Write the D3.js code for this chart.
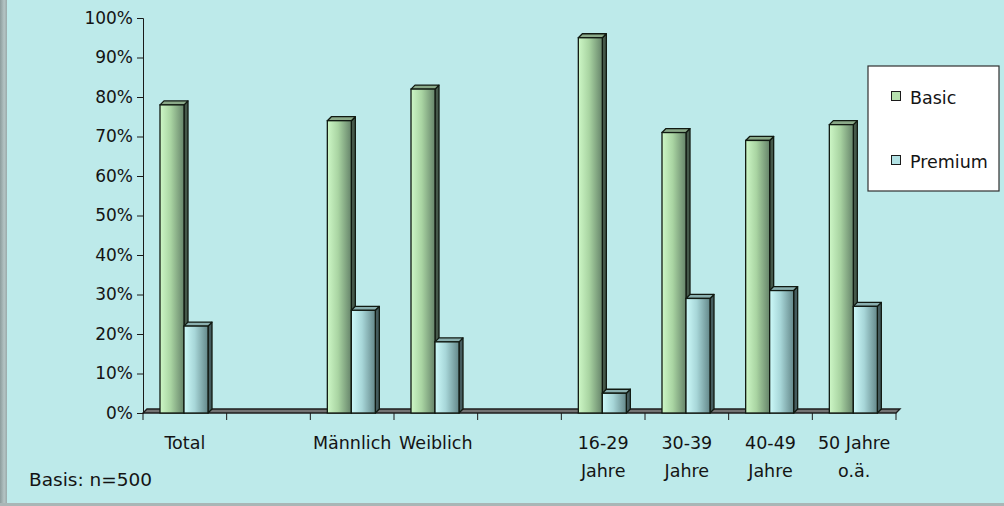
<!DOCTYPE html>
<html>
<head>
<meta charset="utf-8">
<script src="https://cdn.jsdelivr.net/npm/d3@7"></script>
<style>
  html, body { margin: 0; padding: 0; background: #bdeaea; }
  svg { display: block; }
  text { font-family: "DejaVu Sans", Verdana, sans-serif; fill: #141414; }
</style>
</head>
<body>
<svg id="chart" width="1004" height="506"></svg>
<script>
// Category labels (empty entries are spacer slots between groups)
const categories = ["Total", "", "Männlich", "Weiblich", "", "16-29\nJahre", "30-39\nJahre", "40-49\nJahre", "50 Jahre\no.ä."];
const seriesNames = ["Basic", "Premium"];
const basicValues = [78, null, 74, 82, null, 95, 71, 69, 73];
const premiumValues = [22, null, 26, 18, null, 5, 29, 31, 27];
const yTicks = [0, 10, 20, 30, 40, 50, 60, 70, 80, 90, 100];
const footnote = "Basis: n=500";

const W = 1004, H = 506;
const plot = { left: 143, right: 896, top: 18, bottom: 413 };
const depth = { dx: 4, dy: -4 };

const svg = d3.select("#chart");

// Frame: background with a grey left edge and bottom rule
svg.append("rect").attr("width", W).attr("height", H).attr("fill", "#bdeaea");
const defs = svg.append("defs");
const edge = defs.append("linearGradient").attr("id", "edgeGrad");
edge.append("stop").attr("offset", "0%").attr("stop-color", "#8c9c9c");
edge.append("stop").attr("offset", "60%").attr("stop-color", "#b4c4c4");
edge.append("stop").attr("offset", "100%").attr("stop-color", "#9aaaaa");
svg.append("rect").attr("x", 0).attr("y", 0).attr("width", 7).attr("height", H).attr("fill", "url(#edgeGrad)");
svg.append("rect").attr("x", 0).attr("y", H - 3).attr("width", W).attr("height", 3).attr("fill", "#a9b6b6");

function grad(id, from, mid, to) {
  const g = defs.append("linearGradient").attr("id", id).attr("x1", "0%").attr("x2", "100%");
  g.append("stop").attr("offset", "0%").attr("stop-color", from);
  g.append("stop").attr("offset", "45%").attr("stop-color", mid);
  g.append("stop").attr("offset", "100%").attr("stop-color", to);
}
grad("gBasic", "#cdf7c6", "#a9d4a2", "#66846a");
grad("gPremium", "#cdfafa", "#a7d6d8", "#64888a");

const styles = {
  Basic:   { front: "url(#gBasic)",   side: "#45584a", top: "#8aa988", swatch: "#b6e0ae" },
  Premium: { front: "url(#gPremium)", side: "#455c5e", top: "#8ab0b0", swatch: "#b2e2e4" }
};
const edgeColor = "#111a12";

const x = d3.scaleBand().domain(d3.range(categories.length)).range([plot.left, plot.right]);
const xs = d3.scaleBand().domain(seriesNames).range([17, 65]);
const y = d3.scaleLinear().domain([0, 100]).range([plot.bottom, plot.top]);

// Floor slab
const floorPts = [
  [plot.left, plot.bottom], [plot.left + depth.dx, plot.bottom + depth.dy],
  [plot.right + depth.dx, plot.bottom + depth.dy], [plot.right, plot.bottom]
];
svg.append("polygon").attr("points", floorPts.map(p => p.join(",")).join(" "))
  .attr("fill", "#737373").attr("stroke", "#1e1e1e").attr("stroke-width", 1.3);

// Bars
const rows = [];
categories.forEach((c, i) => {
  [["Basic", basicValues[i]], ["Premium", premiumValues[i]]].forEach(([s, v]) => {
    if (v != null) rows.push({ i, s, v });
  });
});

const bars = svg.append("g").selectAll("g").data(rows).join("g");
bars.each(function(d) {
  const g = d3.select(this);
  const x0 = x(d.i) + xs(d.s), x1 = x0 + xs.bandwidth();
  const yt = y(d.v), yb = y(0);
  const st = styles[d.s];
  const dx = depth.dx, dy = depth.dy;
  const poly = pts => pts.map(p => p.join(",")).join(" ");
  g.append("polygon")
    .attr("points", poly([[x1, yb], [x1 + dx, yb + dy], [x1 + dx, yt + dy], [x1, yt]]))
    .attr("fill", st.side).attr("stroke", edgeColor).attr("stroke-width", 1.3).attr("stroke-linejoin", "round");
  g.append("polygon")
    .attr("points", poly([[x0, yt], [x0 + dx, yt + dy], [x1 + dx, yt + dy], [x1, yt]]))
    .attr("fill", st.top).attr("stroke", edgeColor).attr("stroke-width", 1.3).attr("stroke-linejoin", "round");
  g.append("rect")
    .attr("x", x0).attr("y", yt).attr("width", x1 - x0).attr("height", yb - yt)
    .attr("fill", st.front).attr("stroke", edgeColor).attr("stroke-width", 1.3);
});

// Y axis
const yAxis = d3.axisLeft(y).tickValues(yTicks).tickFormat(d => d + "%").tickSize(6).tickPadding(4);
const yg = svg.append("g").attr("transform", `translate(${plot.left},0)`).call(yAxis);
yg.select(".domain").attr("stroke", "#1a1a1a");
yg.selectAll(".tick line").attr("stroke", "#1a1a1a");
yg.selectAll(".tick text").attr("font-size", 17).attr("font-family", "DejaVu Sans, sans-serif").attr("fill", "#141414");

// X axis: boundary ticks between categories
const bounds = d3.range(categories.length).map(i => x(i)).concat([plot.right]);
svg.append("g").selectAll("line").data(bounds).join("line")
  .attr("x1", d => d).attr("x2", d => d)
  .attr("y1", plot.bottom).attr("y2", plot.bottom + 7)
  .attr("stroke", "#1a1a1a");

const labels = svg.append("g").selectAll("text").data(categories).join("text")
  .attr("x", (d, i) => x(i) + x.bandwidth() / 2)
  .attr("y", 449)
  .attr("text-anchor", "middle")
  .attr("font-size", 17.5);
labels.selectAll("tspan").data(d => d.split("\n")).join("tspan")
  .attr("x", function() { return d3.select(this.parentNode).attr("x"); })
  .attr("dy", (d, k) => k === 0 ? 0 : 28)
  .text(d => d);

// Footnote
svg.append("text").attr("x", 29).attr("y", 486).attr("font-size", 18.5).text(footnote);

// Legend
const lg = svg.append("g");
lg.append("rect").attr("x", 868).attr("y", 66).attr("width", 131).attr("height", 125)
  .attr("fill", "#ffffff").attr("stroke", "#303030").attr("stroke-width", 1.2);
seriesNames.forEach((s, k) => {
  const yy = 91 + k * 64;
  lg.append("rect").attr("x", 891.5).attr("y", yy + 0.5).attr("width", 9).attr("height", 9)
    .attr("fill", styles[s].swatch).attr("stroke", "#1b1b1b").attr("stroke-width", 1);
  lg.append("text").attr("x", 910).attr("y", yy + 13).attr("font-size", 17.5).text(s);
});
</script>
</body>
</html>
